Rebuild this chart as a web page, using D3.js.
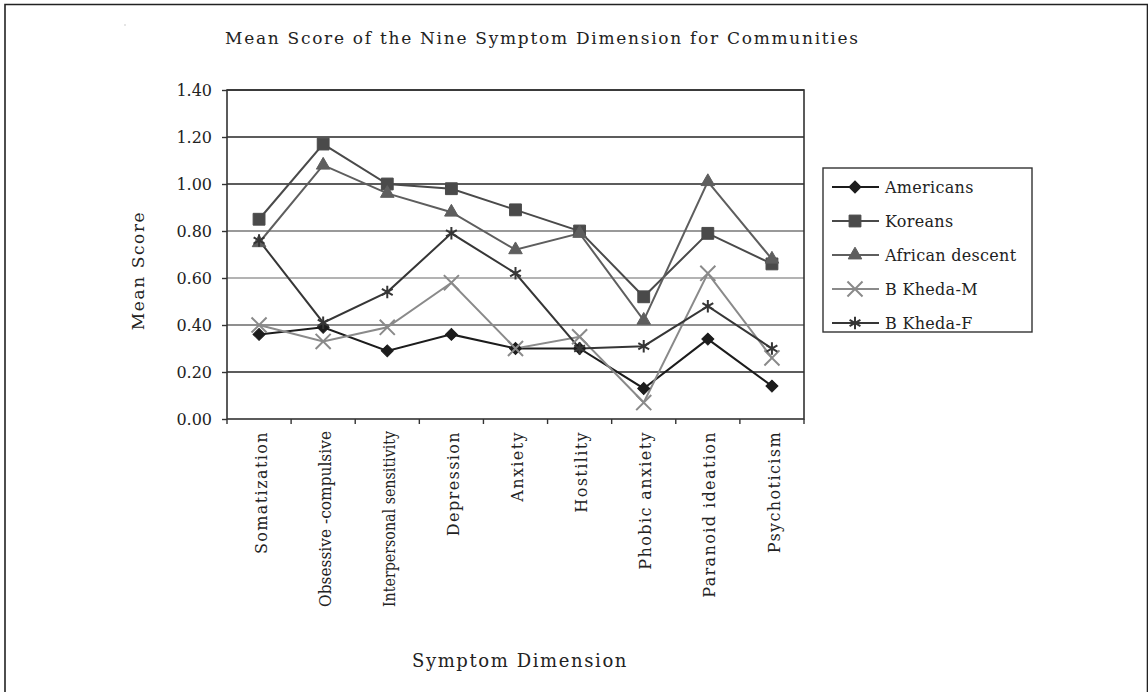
<!DOCTYPE html>
<html>
<head>
<meta charset="utf-8">
<script src="https://cdn.jsdelivr.net/npm/d3@7"></script>
<style>
  body { margin: 0; background: #fff; }
  text { font-family: "DejaVu Serif", serif; fill: #222; }
</style>
</head>
<body>
<div id="chart"></div>
<script>
// Mean score of nine symptom dimensions, by community

const categories = ["Somatization", "Obsessive -compulsive", "Interpersonal sensitivity", "Depression",
  "Anxiety", "Hostility", "Phobic anxiety", "Paranoid ideation", "Psychoticism"];

const seriesNames = ["Americans", "Koreans", "African descent", "B Kheda-M", "B Kheda-F"];

const americans      = [0.36, 0.39, 0.29, 0.36, 0.30, 0.30, 0.13, 0.34, 0.14];
const koreans        = [0.85, 1.17, 1.00, 0.98, 0.89, 0.80, 0.52, 0.79, 0.66];
const africanDescent = [0.75, 1.08, 0.96, 0.88, 0.72, 0.79, 0.42, 1.01, 0.68];
const khedaM         = [0.40, 0.33, 0.39, 0.58, 0.30, 0.35, 0.07, 0.62, 0.26];
const khedaF         = [0.76, 0.41, 0.54, 0.79, 0.62, 0.30, 0.31, 0.48, 0.30];

const yTicks = [0, 0.2, 0.4, 0.6, 0.8, 1.0, 1.2, 1.4];

const seriesValues = [americans, koreans, africanDescent, khedaM, khedaF];

// styles per series
const lineColors = ["#1c1c1c", "#4a4a4a", "#5e5e5e", "#8a8a8a", "#363636"];
const symbols = [d3.symbolSquare, d3.symbolSquare, d3.symbolTriangle, d3.symbolX, d3.symbolAsterisk];
const symSize = [72, 140, 80, 150, 110];
const symRotate = [45, 0, 0, 0, 0];
const symStroked = [false, false, false, true, true];

// grid line colour per tick (the scan shows some lighter)
const gridColor = v => ({0.4: "#6a6a6a", 0.6: "#9a9a9a", 0.8: "#777"}[v] || "#262626");

const W = 1148, H = 692;
const plot = { left: 227, right: 804, top: 90, bottom: 419 };

const svg = d3.select("#chart").append("svg")
  .attr("width", W)
  .attr("height", H);

// outer frame (only left / top / right are visible in the scan)
svg.append("path")
  .attr("d", `M5,${H + 5}V4.5H1147.5V${H + 5}`)
  .attr("fill", "none")
  .attr("stroke", "#222")
  .attr("stroke-width", 1.6);

svg.append("rect").attr("x", 124.5).attr("y", 24.5).attr("width", 1).attr("height", 1).attr("fill", "#999");

const x = d3.scaleBand()
  .domain(categories)
  .range([plot.left, plot.right])
  .padding(0);

const y = d3.scaleLinear()
  .domain([0, 1.4])
  .range([plot.bottom, plot.top]);

const cx = c => x(c) + x.bandwidth() / 2;

// grid
svg.append("g")
  .selectAll("line")
  .data(yTicks.filter(v => v > 0))
  .enter().append("line")
  .attr("x1", plot.left).attr("x2", plot.right)
  .attr("y1", d => y(d)).attr("y2", d => y(d))
  .attr("stroke", d => gridColor(+d.toFixed(1)))
  .attr("stroke-width", 1.4);

// plot border
svg.append("rect")
  .attr("x", plot.left).attr("y", plot.top)
  .attr("width", plot.right - plot.left)
  .attr("height", plot.bottom - plot.top)
  .attr("fill", "none")
  .attr("stroke", "#333")
  .attr("stroke-width", 1.6);

// y axis
svg.append("g")
  .attr("transform", `translate(${plot.left},0)`)
  .call(d3.axisLeft(y).tickValues(yTicks).tickFormat(d3.format(".2f")).tickSize(5).tickPadding(10))
  .call(g => g.select(".domain").remove())
  .call(g => g.selectAll("line").attr("stroke", "#333").attr("stroke-width", 1.4))
  .selectAll("text")
  .style("font-family", "DejaVu Serif, serif")
  .style("font-size", "16px")
  .style("fill", "#222");

// x ticks at category boundaries
const bounds = categories.map(c => x(c)).concat([plot.right]);
svg.append("g")
  .selectAll("line")
  .data(bounds)
  .enter().append("line")
  .attr("x1", d => d).attr("x2", d => d)
  .attr("y1", plot.bottom).attr("y2", plot.bottom + 5)
  .attr("stroke", "#333")
  .attr("stroke-width", 1.4);

// x labels, rotated
const xl = svg.append("g")
  .selectAll("text")
  .data(categories)
  .enter().append("text")
  .attr("transform", d => `translate(${cx(d) + 2},${plot.bottom + 12}) rotate(-90)`)
  .attr("dy", "0.35em")
  .attr("text-anchor", "end")
  .style("font-size", "16px")
  .style("letter-spacing", "1.4px")
  .text(d => d);
// squeeze the long ones like the original does
xl.each(function() {
  if (this.getComputedTextLength() > 176) {
    d3.select(this).attr("textLength", 176).attr("lengthAdjust", "spacingAndGlyphs").style("letter-spacing", "0px");
  }
});

// lines
const line = d3.line()
  .x((d, i) => cx(categories[i]))
  .y(d => y(d));

seriesValues.forEach((vals, s) => {
  svg.append("path")
    .datum(vals)
    .attr("d", line)
    .attr("fill", "none")
    .attr("stroke", lineColors[s])
    .attr("stroke-width", 2);
});

function drawMarker(g, s, px, py) {
  g.append("path")
    .attr("d", d3.symbol(symbols[s], symSize[s])())
    .attr("transform", `translate(${px},${py}) rotate(${symRotate[s]})`)
    .attr("fill", symStroked[s] ? "none" : lineColors[s])
    .attr("stroke", lineColors[s])
    .attr("stroke-width", symStroked[s] ? 2 : 1);
}

const markers = svg.append("g");
seriesValues.forEach((vals, s) => {
  vals.forEach((v, i) => drawMarker(markers, s, cx(categories[i]), y(v)));
});

// title
svg.append("text")
  .attr("x", 225)
  .attr("y", 44)
  .attr("textLength", 633)
  .attr("lengthAdjust", "spacing")
  .style("font-size", "17px")
  .text("Mean Score of the Nine Symptom Dimension for Communities");

// axis titles
svg.append("text")
  .attr("transform", `translate(144,${(plot.top + plot.bottom) / 2 + 16}) rotate(-90)`)
  .attr("text-anchor", "middle")
  .style("font-size", "17px")
  .style("letter-spacing", "1.6px")
  .text("Mean Score");

svg.append("text")
  .attr("x", 520)
  .attr("y", 667)
  .attr("text-anchor", "middle")
  .style("font-size", "18px")
  .style("letter-spacing", "1.6px")
  .text("Symptom Dimension");

// legend
const leg = svg.append("g").attr("transform", "translate(823,168)");
leg.append("rect")
  .attr("width", 209).attr("height", 164)
  .attr("fill", "#fff")
  .attr("stroke", "#333")
  .attr("stroke-width", 1.4);

seriesNames.forEach((name, s) => {
  const ly = 19 + s * 34;
  leg.append("line")
    .attr("x1", 9).attr("x2", 56)
    .attr("y1", ly).attr("y2", ly)
    .attr("stroke", lineColors[s])
    .attr("stroke-width", 2);
  drawMarker(leg, s, 32, ly);
  leg.append("text")
    .attr("x", 62)
    .attr("y", ly)
    .attr("dy", "0.35em")
    .style("font-size", "16px")
    .style("letter-spacing", "0.3px")
    .text(name);
});
</script>
</body>
</html>
